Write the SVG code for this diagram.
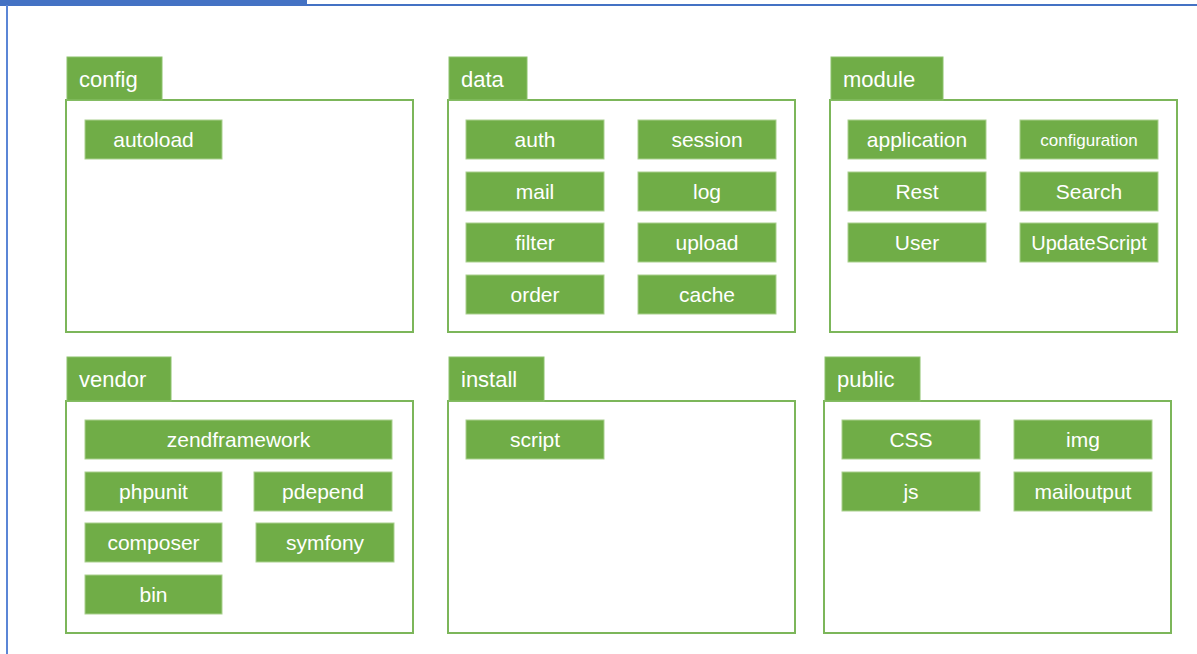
<svg xmlns="http://www.w3.org/2000/svg" width="1197" height="654" viewBox="0 0 1197 654">
<style>
.frame{fill:none;stroke:#4472C4;stroke-width:2}
.panel{fill:#fff;stroke:#7CB65A;stroke-width:2}
.tab{fill:#70AD47;stroke:#8CC26C;stroke-width:1}
.item{fill:#70AD47;stroke:#A9D08E;stroke-width:1}
.tl{font-family:"Liberation Sans",Arial,sans-serif;font-size:22px;fill:#fff}
.il{font-family:"Liberation Sans",Arial,sans-serif;font-size:21px;fill:#fff;text-anchor:middle}
</style>
<rect width="1197" height="654" fill="#fff"/>
<g id="frame">
<rect x="0" y="0" width="307" height="5" fill="#4472C4"/>
<line x1="0" y1="5" x2="1197" y2="5" stroke="#4472C4" stroke-width="2"/>
<line x1="7" y1="5" x2="7" y2="654" stroke="#5B86D6" stroke-width="2"/>
</g>
<g id="config">
<rect class="panel" x="66" y="100" width="347" height="232"/>
<rect class="tab" x="67" y="57" width="95" height="43"/>
<text class="tl" x="79" y="87">config</text>
<rect class="item" x="85" y="120" width="137" height="39"/><text class="il" x="153.5" y="147">autoload</text>
</g>
<g id="data">
<rect class="panel" x="448" y="100" width="347" height="232"/>
<rect class="tab" x="449" y="57" width="78" height="43"/>
<text class="tl" x="461" y="87">data</text>
<rect class="item" x="466" y="120" width="138" height="39"/><text class="il" x="535" y="147">auth</text>
<rect class="item" x="638" y="120" width="138" height="39"/><text class="il" x="707" y="147">session</text>
<rect class="item" x="466" y="172" width="138" height="39"/><text class="il" x="535" y="199">mail</text>
<rect class="item" x="638" y="172" width="138" height="39"/><text class="il" x="707" y="199">log</text>
<rect class="item" x="466" y="223" width="138" height="39"/><text class="il" x="535" y="250">filter</text>
<rect class="item" x="638" y="223" width="138" height="39"/><text class="il" x="707" y="250">upload</text>
<rect class="item" x="466" y="275" width="138" height="39"/><text class="il" x="535" y="302">order</text>
<rect class="item" x="638" y="275" width="138" height="39"/><text class="il" x="707" y="302">cache</text>
</g>
<g id="module">
<rect class="panel" x="830" y="100" width="347" height="232"/>
<rect class="tab" x="831" y="57" width="112" height="43"/>
<text class="tl" x="843" y="87">module</text>
<rect class="item" x="848" y="120" width="138" height="39"/><text class="il" x="917" y="147">application</text>
<rect class="item" x="1020" y="120" width="138" height="39"/><text class="il" x="1089" y="146" style="font-size:17px">configuration</text>
<rect class="item" x="848" y="172" width="138" height="39"/><text class="il" x="917" y="199">Rest</text>
<rect class="item" x="1020" y="172" width="138" height="39"/><text class="il" x="1089" y="199">Search</text>
<rect class="item" x="848" y="223" width="138" height="39"/><text class="il" x="917" y="250">User</text>
<rect class="item" x="1020" y="223" width="138" height="39"/><text class="il" x="1089" y="250" style="font-size:20px">UpdateScript</text>
</g>
<g id="vendor">
<rect class="panel" x="66" y="401" width="347" height="232"/>
<rect class="tab" x="67" y="357" width="104" height="44"/>
<text class="tl" x="79" y="387">vendor</text>
<rect class="item" x="85" y="420" width="307" height="39"/><text class="il" x="238.5" y="447">zendframework</text>
<rect class="item" x="85" y="472" width="137" height="39"/><text class="il" x="153.5" y="499">phpunit</text>
<rect class="item" x="254" y="472" width="138" height="39"/><text class="il" x="323" y="499">pdepend</text>
<rect class="item" x="85" y="523" width="137" height="39"/><text class="il" x="153.5" y="550">composer</text>
<rect class="item" x="256" y="523" width="138" height="39"/><text class="il" x="325" y="550">symfony</text>
<rect class="item" x="85" y="575" width="137" height="39"/><text class="il" x="153.5" y="602">bin</text>
</g>
<g id="install">
<rect class="panel" x="448" y="401" width="347" height="232"/>
<rect class="tab" x="449" y="357" width="95" height="44"/>
<text class="tl" x="461" y="387">install</text>
<rect class="item" x="466" y="420" width="138" height="39"/><text class="il" x="535" y="447">script</text>
</g>
<g id="public">
<rect class="panel" x="824" y="401" width="347" height="232"/>
<rect class="tab" x="825" y="357" width="95" height="44"/>
<text class="tl" x="837" y="387">public</text>
<rect class="item" x="842" y="420" width="138" height="39"/><text class="il" x="911" y="447">CSS</text>
<rect class="item" x="1014" y="420" width="138" height="39"/><text class="il" x="1083" y="447">img</text>
<rect class="item" x="842" y="472" width="138" height="39"/><text class="il" x="911" y="499">js</text>
<rect class="item" x="1014" y="472" width="138" height="39"/><text class="il" x="1083" y="499">mailoutput</text>
</g>
<g id="connectors"></g>
</svg>
